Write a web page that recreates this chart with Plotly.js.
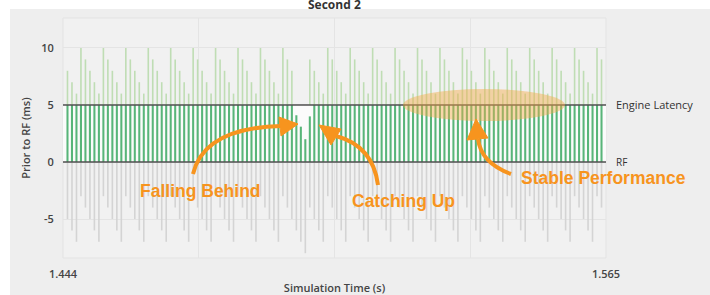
<!DOCTYPE html>
<html>
<head>
<meta charset="utf-8">
<script src="https://cdn.plot.ly/plotly-3.0.1.min.js"></script>
<style>
html,body{margin:0;padding:0;background:#ffffff;overflow:hidden;}
#chart{width:710px;height:295px;}
</style>
</head>
<body>
<div id="chart"></div>
<script>
// Simulation time of each frame (s)
var time = [
1.445,1.446,1.447,1.448,1.449,1.450,1.451,1.452,1.453,1.454,
1.455,1.456,1.457,1.458,1.459,1.460,1.461,1.462,1.463,1.464,
1.465,1.466,1.467,1.468,1.469,1.470,1.471,1.472,1.473,1.474,
1.475,1.476,1.477,1.478,1.479,1.480,1.481,1.482,1.483,1.484,
1.485,1.486,1.487,1.488,1.489,1.490,1.491,1.492,1.493,1.494,
1.495,1.496,1.497,1.498,1.499,1.500,1.501,1.502,1.503,1.504,
1.505,1.506,1.507,1.508,1.509,1.510,1.511,1.512,1.513,1.514,
1.515,1.516,1.517,1.518,1.519,1.520,1.521,1.522,1.523,1.524,
1.525,1.526,1.527,1.528,1.529,1.530,1.531,1.532,1.533,1.534,
1.535,1.536,1.537,1.538,1.539,1.540,1.541,1.542,1.543,1.544,
1.545,1.546,1.547,1.548,1.549,1.550,1.551,1.552,1.553,1.554,
1.555,1.556,1.557,1.558,1.559,1.560,1.561,1.562,1.563,1.564
];
// Upper end of each frame bar, prior to RF (ms)
var upperMs = [
8,7,6,10,9,8,7,6,10,9,
8,7,6,10,9,8,7,6,10,9,
8,7,6,10,9,8,7,6,10,9,
8,7,6,10,9,8,7,6,10,9,
8,7,6,10,9,8,7,6,10,9,
8,null,null,null,9,8,7,6,10,9,
8,7,6,10,9,8,7,6,10,9,
8,7,6,10,9,8,7,6,10,9,
8,7,6,10,9,8,7,6,10,9,
8,7,6,10,9,8,7,6,10,9,
8,7,6,10,9,8,7,6,10,9,
8,7,6,10,9,8,7,6,10,9
];
// Portion between RF and engine latency (ms)
var withinMs = [
5,5,5,5,5,5,5,5,5,5,
5,5,5,5,5,5,5,5,5,5,
5,5,5,5,5,5,5,5,5,5,
5,5,5,5,5,5,5,5,5,5,
5,5,5,5,5,5,5,5,5,5,
5,4.1,3.1,2.0,4.0,5,5,5,5,5,
5,5,5,5,5,5,5,5,5,5,
5,5,5,5,5,5,5,5,5,5,
5,5,5,5,5,5,5,5,5,5,
5,5,5,5,5,5,5,5,5,5,
5,5,5,5,5,5,5,5,5,5,
5,5,5,5,5,5,5,5,5,5
];
// Lower end of each frame bar (ms, after RF)
var lowerMs = [
-5,-6,-7,-3,-4,-5,-6,-7,-3,-4,
-5,-6,-7,-3,-4,-5,-6,-7,-3,-4,
-5,-6,-7,-3,-4,-5,-6,-7,-3,-4,
-5,-6,-7,-3,-4,-5,-6,-7,-3,-4,
-5,-6,-7,-3,-4,-5,-6,-7,-3,-4,
-5,-6,-7,-8,-4,-5,-6,-7,-3,-4,
-5,-6,-7,-3,-4,-5,-6,-7,-3,-4,
-5,-6,-7,-3,-4,-5,-6,-7,-3,-4,
-5,-6,-7,-3,-4,-5,-6,-7,-3,-4,
-5,-6,-7,-3,-4,-5,-6,-7,-3,-4,
-5,-6,-7,-3,-4,-5,-6,-7,-3,-4,
-5,-6,-7,-3,-4,-5,-6,-7,-3,-4
];
var engineLatency = 5;
var rfLevel = 0;
var xTickVals = [1.444, 1.47425, 1.5045, 1.53475, 1.565];
var xTickText = ['1.444', '', '', '', '1.565'];
var yTickVals = [-5, 0, 5, 10];
var yTickText = ['-5', '0', '5', '10'];

var ORANGE = '#f7941e';
var L = 63, R = 104, T = 18, B = 37, W = 710, H = 295;
var PW = W - L - R, PH = H - T - B;
function px(x){ return (x - L) / PW; }
function py(y){ return (H - B - y) / PH; }
function P(x, y){ return px(x).toFixed(4) + ',' + py(y).toFixed(4); }

var upperAbove = upperMs.map(function(u){ return u === null ? null : u - engineLatency; });

var traces = [
  {type:'bar', x:time, y:lowerMs, width:0.00036, marker:{color:'#d4d4d4', line:{width:0}}, hoverinfo:'skip'},
  {type:'bar', x:time, y:upperAbove, base:engineLatency, width:0.00036, marker:{color:'#bfddb4', line:{width:0}}, hoverinfo:'skip'},
  {type:'bar', x:time, y:withinMs, width:0.00046, marker:{color:'#58b579', line:{width:0}}, hoverinfo:'skip'}
];

function curve(x0,y0,cx,cy,x1,y1){
  return {type:'path', xref:'paper', yref:'paper', layer:'above',
    path:'M'+P(x0,y0)+' Q'+P(cx,cy)+' '+P(x1,y1),
    line:{color:ORANGE, width:4}, fillcolor:'rgba(0,0,0,0)'};
}
function head(tx,ty,ax,ay,bx,by){
  return {type:'path', xref:'paper', yref:'paper', layer:'above',
    path:'M'+P(tx,ty)+' L'+P(ax,ay)+' L'+P(bx,by)+' Z',
    line:{color:ORANGE, width:1}, fillcolor:ORANGE};
}

var shapes = [
  {type:'rect', xref:'paper', yref:'paper', layer:'below', x0:px(10), x1:px(720), y0:py(305), y1:py(9), fillcolor:'#eeeeee', line:{width:0}},
  {type:'rect', xref:'paper', yref:'paper', layer:'below', x0:0, x1:1, y0:0, y1:1, fillcolor:'#f1f1f1', line:{color:'#e3e3e3', width:1}},
  {type:'rect', xref:'paper', yref:'y', layer:'below', x0:0, x1:1, y0:rfLevel, y1:engineLatency, fillcolor:'#fbfbfb', line:{width:0}},
  {type:'line', xref:'paper', yref:'y', layer:'above', x0:0, x1:1, y0:engineLatency, y1:engineLatency, line:{color:'#505050', width:1.5}},
  {type:'line', xref:'paper', yref:'y', layer:'above', x0:0, x1:1, y0:rfLevel, y1:rfLevel, line:{color:'#505050', width:1.5}},
  {type:'circle', xref:'paper', yref:'paper', layer:'above', x0:px(403), x1:px(565), y0:py(121), y1:py(89), fillcolor:'rgba(243,170,70,0.45)', line:{width:0}},
  curve(193,174, 204,128, 281,126),
  head(298,124, 279,117, 281,136),
  curve(378,185, 373,146, 336,136),
  head(319,125, 341,129, 331,145),
  curve(511,174, 481,163, 478,139),
  head(476,119, 467,140, 488,138)
];

var tf = {family:'Open Sans, Noto Sans, sans-serif', size:11, color:'#444', weight:600};
var of = {family:'Liberation Sans, Arial, sans-serif', size:17.5, color:ORANGE, weight:700};

var annotations = [
  {xref:'paper', yref:'paper', x:0.5, y:py(5), text:'Second 2', showarrow:false, xanchor:'center', yanchor:'middle', font:{family:'Open Sans, sans-serif', size:12, color:'#333', weight:700}},
  {xref:'paper', yref:'y', x:px(614), y:engineLatency, text:'Engine Latency', showarrow:false, xanchor:'left', yanchor:'middle', font:{family:'Open Sans, sans-serif', size:11, color:'#333', weight:500}},
  {xref:'paper', yref:'y', x:px(614), y:rfLevel, text:'RF', showarrow:false, xanchor:'left', yanchor:'middle', font:{family:'Open Sans, sans-serif', size:10, color:'#333', weight:500}},
  {xref:'paper', yref:'paper', x:px(200), y:py(191), text:'Falling Behind', showarrow:false, xanchor:'center', yanchor:'middle', font:of},
  {xref:'paper', yref:'paper', x:px(403), y:py(201), text:'Catching Up', showarrow:false, xanchor:'center', yanchor:'middle', font:of},
  {xref:'paper', yref:'paper', x:px(603), y:py(178), text:'Stable Performance', showarrow:false, xanchor:'center', yanchor:'middle', font:of}
];

var layout = {
  width:W, height:H,
  margin:{l:L, r:R, t:T, b:B, pad:0},
  paper_bgcolor:'#ffffff',
  plot_bgcolor:'rgba(0,0,0,0)',
  showlegend:false,
  hovermode:false,
  barmode:'overlay',
  xaxis:{range:[1.444, 1.565], tickmode:'array', tickvals:xTickVals, ticktext:xTickText,
    showgrid:true, gridcolor:'#e4e4e4', gridwidth:1, zeroline:false, showline:false,
    ticks:'outside', ticklen:6, tickcolor:'rgba(0,0,0,0)', tickfont:tf,
    title:{text:'Simulation Time (s)', font:tf, standoff:4}},
  yaxis:{range:[-8.42, 12.63], tickmode:'array', tickvals:yTickVals, ticktext:yTickText,
    showgrid:true, gridcolor:'#e4e4e4', gridwidth:1, zeroline:false, showline:false,
    ticks:'outside', ticklen:6, tickcolor:'rgba(0,0,0,0)', tickfont:tf,
    title:{text:'Prior to RF (ms)', font:tf, standoff:8}},
  shapes:shapes,
  annotations:annotations
};

Plotly.newPlot('chart', traces, layout, {staticPlot:true, displayModeBar:false});
</script>
</body>
</html>
